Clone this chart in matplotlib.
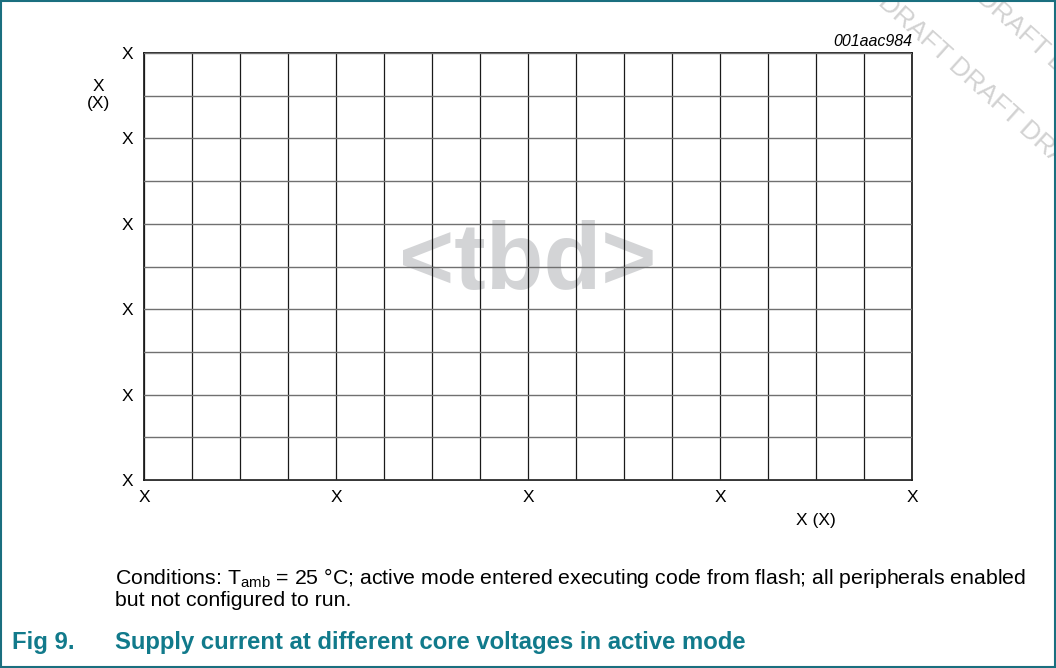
import matplotlib
matplotlib.use("Agg")
import matplotlib.pyplot as plt
from matplotlib.patches import Rectangle
from matplotlib.ticker import MultipleLocator

plt.rcParams['font.family'] = ['Liberation Sans', 'DejaVu Sans']
plt.rcParams['mathtext.fontset'] = 'custom'
plt.rcParams['mathtext.rm'] = 'Liberation Sans'
plt.rcParams['mathtext.it'] = 'Liberation Sans:italic'

# ---- data ----
n_cols = 16
n_rows = 10
x_ticks = [0, 4, 8, 12, 16]
x_tick_labels = ['X', 'X', 'X', 'X', 'X']
y_ticks = [0, 2, 4, 6, 8, 10]
y_tick_labels = ['X', 'X', 'X', 'X', 'X', 'X']
x_label = 'X (X)'
y_label = 'X\n(X)'
chart_id = '001aac984'
placeholder = '<tbd>'
conditions_1 = r'Conditions: T$_{\mathrm{amb}}$ = 25 °C; active mode entered executing code from flash; all peripherals enabled'
conditions_2 = 'but not configured to run.'
fig_num = 'Fig 9.'
fig_title = 'Supply current at different core voltages in active mode'
watermark = 'DRAFT DRAFT DRAFT DRAFT'

W, H = 1056, 668
fig = plt.figure(figsize=(W / 100, H / 100), dpi=100)

def fx(px):
    return px / W

def fy(py):
    return 1 - py / H

# watermark
wm_color = '#d2d2d2'
for (sx, sy) in [(890, -10), (988, -15)]:
    fig.text(fx(sx), fy(sy), watermark, rotation=-42,
             rotation_mode='anchor', ha='left', va='top', fontsize=19,
             color=wm_color, zorder=0)

ax = fig.add_axes([fx(144), fy(480), fx(912) - fx(144), fy(53) - fy(480)])
ax.set_xlim(0, n_cols)
ax.set_ylim(0, n_rows)
ax.set_xticks(x_ticks)
ax.set_xticklabels(x_tick_labels)
ax.set_yticks(y_ticks)
ax.set_yticklabels(y_tick_labels)
ax.xaxis.set_minor_locator(MultipleLocator(1))
ax.yaxis.set_minor_locator(MultipleLocator(1))
ax.tick_params(which='both', length=0)
ax.tick_params(axis='x', pad=7, labelsize=12.5)
ax.tick_params(axis='y', pad=8, labelsize=12.5)
ax.grid(True, axis='x', which='both', color='#1a1a1a', linewidth=0.9)
ax.grid(True, axis='y', which='both', color='#707070', linewidth=1.0)
ax.set_axisbelow(False)
for s in ax.spines.values():
    s.set_color('#111111')
    s.set_linewidth(1.2)
ax.set_facecolor('white')

ax.text(0.5, 0.505, placeholder, transform=ax.transAxes, ha='center', va='center',
        fontsize=68, fontweight='bold', color='#d3d4d6', zorder=1)

fig.text(fx(912), fy(41), chart_id, ha='right', va='center', fontsize=11.5, style='italic')
fig.text(fx(98), fy(95), y_label, ha='center', va='center', fontsize=12.5, linespacing=1.1)
fig.text(fx(816), fy(520), x_label, ha='center', va='center', fontsize=12.5)

fig.text(fx(115), fy(578), conditions_1, ha='left', va='center', fontsize=15.35)
fig.text(fx(115), fy(601), conditions_2, ha='left', va='center', fontsize=15.35)

teal = '#117a8b'
fig.text(fx(12), fy(643), fig_num, ha='left', va='center', fontsize=17.2,
         fontweight='bold', color=teal)
fig.text(fx(115), fy(643), fig_title, ha='left', va='center', fontsize=17.2,
         fontweight='bold', color=teal)

fig.patches.append(Rectangle((0.001, 0.0015), 0.998, 0.997, transform=fig.transFigure,
                             fill=False, edgecolor='#1a6f7f', linewidth=1.5))

fig.savefig('out.png', dpi=100)
